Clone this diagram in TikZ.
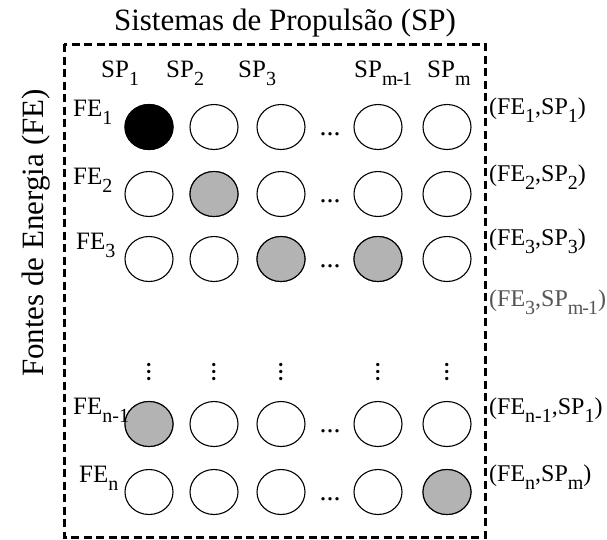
\documentclass[tikz,border=0pt]{standalone}
\usepackage{fontspec}
\setmainfont{Liberation Serif}
\usetikzlibrary{positioning,shapes.geometric}
\definecolor{shade}{RGB}{179,179,179}
\definecolor{dimtext}{RGB}{85,85,85}
\newcommand{\sbs}[1]{\raisebox{-8pt}{\fontsize{20}{20}\selectfont #1}}
\newcommand{\mless}{m\kern-1pt-\kern-1pt1}
\tikzset{
  cell/.style={ellipse,draw=black,line width=1.1pt,minimum width=48pt,minimum height=45pt,inner sep=0pt,fill=white},
  lab/.style={font=\fontsize{25}{25}\selectfont,inner sep=0pt,anchor=base west},
  pair/.style={lab,font=\fontsize{24}{24}\selectfont},
  heading/.style={font=\fontsize{31}{31}\selectfont,inner sep=0pt,anchor=base},
  gap/.style={font=\fontsize{28}{28}\selectfont,inner sep=0pt},
  frame/.style={line width=3pt,dash pattern=on 8pt off 4.5pt}
}

\begin{document}
\begin{tikzpicture}[x=1pt,y=-1pt]
\useasboundingbox (0,0) rectangle (607,539);
\draw[frame] (64,44) rectangle (485,537);
\node[heading] (ttl) at (285,30) {Sistemas de Propulsão (SP)};
\node[heading,rotate=90] (fe) at (43,233) {Fontes de Energia (FE)};
% column heads
\node[lab] (sp1) at (101,77) {SP\sbs{1}};
\node[lab] (sp2) at (166,77) {SP\sbs{2}};
\node[lab] (sp3) at (238,77) {SP\sbs{3}};
\node[lab] (sp4) at (354,77) {SP\sbs{\mless}};
\node[lab] (sp5) at (427,77) {SP\sbs{m}};
% grid of pairs
\foreach \r/\y in {1/127,2/194,3/259,4/424,5/492}{
  \foreach \c/\x in {1/149,2/214,3/281,4/378,5/447}
    \node[cell] (c\r\c) at (\x,\y) {};
  \node[gap] (h\r) at (330,\y+7) {...};
}
\foreach \n/\col in {c11/black,c22/shade,c33/shade,c34/shade,c41/shade,c55/shade}
  \draw[fill=\col,line width=1.1pt] (\n.center) ellipse (24pt and 22.5pt);
\foreach \c in {1,...,5}
  \node[gap,rotate=90] (v\c) at (c4\c |- 0,372) {...};
% row heads
\node[lab] (fe1) at (73,116) {FE\sbs{1}};
\node[lab] (fe2) at (73,184) {FE\sbs{2}};
\node[lab] (fe3) at (76,249) {FE\sbs{3}};
\node[lab] (fe4) at (73,414) {FE\sbs{n-1}};
\node[lab] (fe5) at (79,482) {FE\sbs{n}};
% selected pairs
\node[pair] (p1) at (489,114) {(FE\sbs{1},SP\sbs{1})};
\node[pair] (p2) at (489,181) {(FE\sbs{2},SP\sbs{2})};
\node[pair] (p3) at (489,245) {(FE\sbs{3},SP\sbs{3})};
\node[pair,text=dimtext] (p4) at (489,306) {(FE\sbs{3},SP\sbs{\mless})};
\node[pair] (p5) at (489,414) {(FE\sbs{n-1},SP\sbs{1})};
\node[pair] (p6) at (489,481) {(FE\sbs{n},SP\sbs{m})};
\end{tikzpicture}
\end{document}
